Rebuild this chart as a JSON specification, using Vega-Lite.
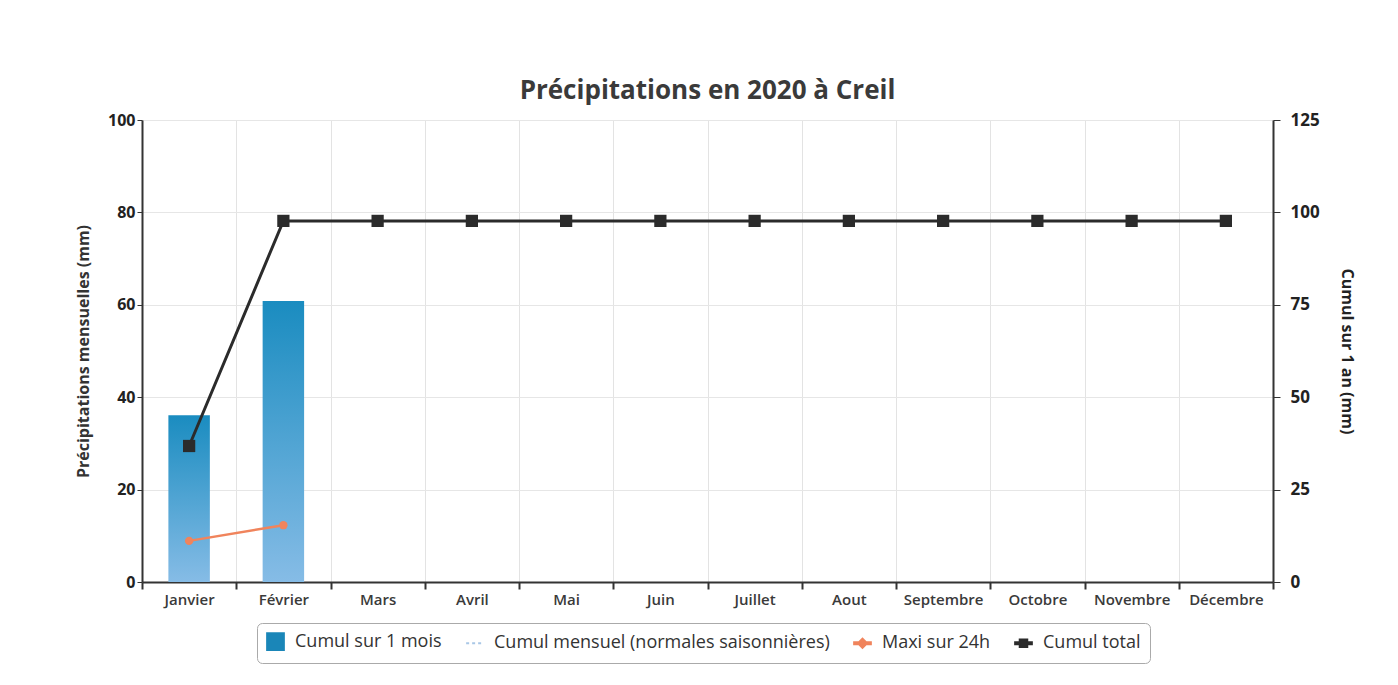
{
  "$schema": "https://vega.github.io/schema/vega-lite/v6.json",
  "width": 1131,
  "height": 462,
  "padding": {"left": 75, "top": 78, "right": 10, "bottom": 10},
  "background": "white",
  "config": {
    "font": "Open Sans",
    "view": {"stroke": null}
  },
  "title": {
    "text": "Précipitations en 2020 à Creil",
    "fontSize": 26,
    "fontWeight": "bold",
    "color": "#3a3a3a",
    "offset": 7,
    "anchor": "middle"
  },
  "data": {
    "values": [
      {"mois": "Janvier", "cumul1mois": 36.1, "maxi24h": 8.9, "cumulTotal": 36.8},
      {"mois": "Février", "cumul1mois": 60.8, "maxi24h": 12.3, "cumulTotal": 97.7},
      {"mois": "Mars", "cumulTotal": 97.7},
      {"mois": "Avril", "cumulTotal": 97.7},
      {"mois": "Mai", "cumulTotal": 97.7},
      {"mois": "Juin", "cumulTotal": 97.7},
      {"mois": "Juillet", "cumulTotal": 97.7},
      {"mois": "Aout", "cumulTotal": 97.7},
      {"mois": "Septembre", "cumulTotal": 97.7},
      {"mois": "Octobre", "cumulTotal": 97.7},
      {"mois": "Novembre", "cumulTotal": 97.7},
      {"mois": "Décembre", "cumulTotal": 97.7}
    ]
  },
  "encoding": {
    "x": {
      "field": "mois",
      "type": "nominal",
      "sort": null,
      "scale": {"paddingInner": 0, "paddingOuter": 0},
      "axis": {
        "title": null,
        "labelAngle": 0,
        "labelFontSize": 15,
        "labelFontWeight": 600,
        "labelColor": "#3a3a3a",
        "labelPadding": 3,
        "tickBand": "extent",
        "ticks": true,
        "tickColor": "#333",
        "tickWidth": 2,
        "tickSize": 7,
        "domainColor": "#333",
        "domainWidth": 2,
        "grid": true,
        "gridColor": "#e3e3e3",
        "gridWidth": 1
      }
    }
  },
  "layer": [
    {
      "layer": [
        {
          "mark": {
            "type": "bar",
            "width": {"band": 0.44},
            "color": {
              "gradient": "linear",
              "x1": 0, "y1": 0, "x2": 0, "y2": 1,
              "stops": [
                {"offset": 0, "color": "#1a8cc0"},
                {"offset": 1, "color": "#86bce6"}
              ]
            }
          },
          "encoding": {
            "y": {
              "field": "cumul1mois",
              "type": "quantitative",
              "scale": {"domain": [0, 100]},
              "axis": {
                "title": "Précipitations mensuelles (mm)",
                "titleFontSize": 16,
                "titleFontWeight": "bold",
                "titleColor": "#333",
                "titlePadding": 16,
                "values": [0, 20, 40, 60, 80, 100],
                "labelFontSize": 16,
                "labelFontWeight": "bold",
                "labelColor": "#222",
                "labelPadding": 2,
                "tickColor": "#333",
                "tickSize": 5,
                "domainColor": "#333",
                "domainWidth": 2,
                "grid": true,
                "gridColor": "#e6e6e6"
              }
            }
          }
        },
        {
          "mark": {"type": "line", "strokeWidth": 2.5, "point": {"filled": true, "size": 70}},
          "encoding": {
            "y": {"field": "maxi24h", "type": "quantitative"},
            "color": {
              "datum": "Maxi sur 24h",
              "scale": {
                "domain": ["Cumul sur 1 mois", "Cumul mensuel (normales saisonnières)", "Maxi sur 24h", "Cumul total"],
                "range": ["#1a86b8", "#a9c7e6", "#f0845c", "#2b2b2b"]
              },
              "legend": {
                "title": null,
                "orient": "none",
                "legendX": 115,
                "legendY": 503,
                "direction": "horizontal",
                "labelFontSize": 18,
                "labelColor": "#333",
                "labelFont": "Open Sans",
                "labelLimit": 0,
                "labelOffset": 10,
                "strokeColor": "#aaaaaa",
                "cornerRadius": 5,
                "padding": 9,
                "fillColor": "white",
                "columnPadding": 20,
                "symbolSize": 280,
                "symbolStrokeWidth": 2,
                "encode": {
                  "symbols": {
                    "update": {
                      "shape": {"signal": "datum.value == 'Cumul sur 1 mois' ? 'square' : datum.value == 'Cumul mensuel (normales saisonnières)' ? 'stroke' : datum.value == 'Maxi sur 24h' ? 'M-1,-0.12H-0.42L0,-0.55L0.42,-0.12H1V0.12H0.42L0,0.55L-0.42,0.12H-1Z' : 'M-1,-0.12H-0.45V-0.45H0.45V-0.12H1V0.12H0.45V0.45H-0.45V0.12H-1Z'"},
                      "fill": {"signal": "datum.value == 'Cumul sur 1 mois' ? '#1a86b8' : datum.value == 'Cumul mensuel (normales saisonnières)' ? 'transparent' : datum.value == 'Maxi sur 24h' ? '#f0845c' : '#2b2b2b'"},
                      "stroke": {"signal": "datum.value == 'Cumul mensuel (normales saisonnières)' ? '#a9c7e6' : 'transparent'"},
                      "strokeDash": {"signal": "datum.value == 'Cumul mensuel (normales saisonnières)' ? [3, 3] : []"},
                      "strokeWidth": {"value": 2},
                      "opacity": {"value": 1}
                    }
                  }
                }
              }
            }
          }
        }
      ]
    },
    {
      "mark": {"type": "line", "strokeWidth": 3, "point": {"filled": true, "shape": "square", "size": 150}},
      "encoding": {
        "y": {
          "field": "cumulTotal",
          "type": "quantitative",
          "scale": {"domain": [0, 125]},
          "axis": {
            "orient": "right",
            "title": "Cumul sur 1 an (mm)",
            "titleFontSize": 16,
            "titleFontWeight": "bold",
            "titleColor": "#222",
            "titlePadding": 19,
            "values": [0, 25, 50, 75, 100, 125],
            "labelFontSize": 17,
            "labelFontWeight": "bold",
            "labelColor": "#222",
            "labelPadding": 10,
            "tickColor": "#333",
            "tickSize": 7,
            "domainColor": "#333",
            "domainWidth": 2,
            "grid": false
          }
        },
        "color": {"datum": "Cumul total"}
      }
    }
  ],
  "resolve": {"scale": {"y": "independent"}}
}
